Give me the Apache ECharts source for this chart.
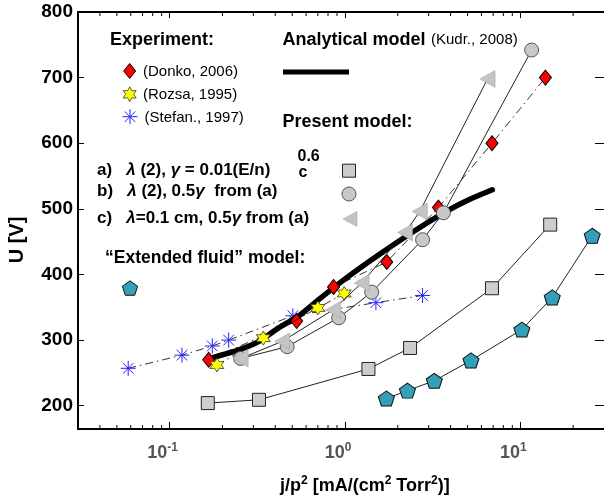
<!DOCTYPE html>
<html>
<head>
<meta charset="utf-8">
<script src="https://cdn.jsdelivr.net/npm/echarts@6/dist/echarts.min.js"></script>
<style>
  html, body { margin: 0; padding: 0; background: #fff; }
  #chart { width: 604px; height: 500px; }
</style>
</head>
<body>
<div id="chart"></div>
<script>
// Breakdown voltage U [V] versus reduced current density j/p^2 [mA/(cm^2 Torr^2)]

// Experiment
const donko2006 = [[0.167, 270], [0.53, 329], [0.86, 381], [1.73, 419], [3.41, 502], [6.89, 600], [13.9, 700]];
const rozsa1995 = [[0.186, 262], [0.342, 303], [0.70, 349], [0.99, 371]];
const stefan1997 = [[0.058, 257], [0.1175, 277], [0.175, 291], [0.217, 300], [0.504, 337], [1.50, 357], [2.77, 368]];

// Analytical model (Kudr., 2008)
const analyticalModel = [[0.174, 273], [0.248, 285], [0.323, 298], [0.42, 319], [0.546, 337], [0.71, 362],
  [1.01, 394], [1.56, 430], [2.41, 464], [3.78, 496], [4.91, 512], [6.92, 529]];

// Present model, variants a), b), c)
const modelA = [[0.165, 204], [0.323, 209], [1.36, 256], [2.35, 288], [6.89, 379], [14.8, 476]];
const modelB = [[0.254, 272], [0.468, 290], [0.92, 334], [1.42, 373], [2.77, 453], [3.64, 494], [11.6, 742]];
const modelC = [[0.254, 272], [0.438, 298], [0.854, 346], [1.245, 387], [2.2, 464], [2.67, 496], [6.5, 698]];

// "Extended fluid" model
const extendedFluid = [[1.72, 211], [2.27, 223], [3.23, 238], [5.23, 269], [10.2, 316], [15.2, 365], [25.7, 459]];

// Axis ranges and tick labels
const xRange = [0.03, 30];
const yRange = [164.5, 800];
const xTickExponents = { '0.1': '-1', '1': '0', '10': '1' };
const xMinorTicks = [0.04, 0.05, 0.06, 0.07, 0.08, 0.09,
  0.2, 0.3, 0.4, 0.5, 0.6, 0.7, 0.8, 0.9,
  2, 3, 4, 5, 6, 7, 8, 9, 20];

const SANS = '"Liberation Sans", Arial, Helvetica, sans-serif';
const NARROW = '"Liberation Sans Narrow", "Liberation Sans", Arial, sans-serif';

const PATH_STAR = 'path://M10,0L12.75,5.24L18.66,5L15.5,10L18.66,15L12.75,14.76L10,20L7.25,14.76L1.34,15L4.5,10L1.34,5L7.25,5.24Z';
const PATH_AST = 'path://M10,0L10,20M0,10L20,10M2.93,2.93L17.07,17.07M17.07,2.93L2.93,17.07';
const PATH_PENT = 'path://M10,0L19.51,6.91L15.88,18.09L4.12,18.09L0.49,6.91Z';
const PATH_TRI = 'path://M0,10L17,0L17,20Z';

const DASHDOT = [8, 4, 1.5, 4];

function polyPoints(cx, cy, rOuter, rInner, n, startDeg) {
  const pts = [];
  const count = rInner ? n * 2 : n;
  for (let k = 0; k < count; k++) {
    const a = (startDeg + k * 360 / count) * Math.PI / 180;
    const r = (rInner && k % 2 === 1) ? rInner : rOuter;
    pts.push([cx + r * Math.cos(a), cy + r * Math.sin(a)]);
  }
  return pts;
}

function label(x, y, text, size, weight, extra) {
  return Object.assign({
    type: 'text', x: x, y: y, silent: true, z: 100,
    style: {
      text: text, fill: '#000', fontFamily: SANS, fontSize: size, fontWeight: weight,
      align: 'left', verticalAlign: 'middle'
    }
  }, extra || {});
}

function italicRich(size) {
  return { i: { fontFamily: SANS, fontSize: size, fontWeight: 'bold', fontStyle: 'italic', fill: '#000' } };
}

function asterisk(cx, cy, r, color) {
  const children = [];
  for (let k = 0; k < 4; k++) {
    const a = k * Math.PI / 4;
    children.push({
      type: 'line',
      shape: { x1: cx - r * Math.cos(a), y1: cy - r * Math.sin(a), x2: cx + r * Math.cos(a), y2: cy + r * Math.sin(a) },
      style: { stroke: color, lineWidth: 1 }
    });
  }
  return { type: 'group', silent: true, z: 100, children: children };
}

const supRich = {
  b: { fontFamily: NARROW, fontSize: 18, fontWeight: 'bold', lineHeight: 22, fill: '#000' },
  s: { fontFamily: NARROW, fontSize: 12, fontWeight: 'bold', lineHeight: 12, verticalAlign: 'top', fill: '#000' }
};

const titleRich = {
  b: { fontFamily: SANS, fontSize: 18, fontWeight: 'bold', lineHeight: 22, fill: '#000' },
  s: { fontFamily: SANS, fontSize: 12, fontWeight: 'bold', lineHeight: 12, verticalAlign: 'top', fill: '#000' }
};

const chart = echarts.init(document.getElementById('chart'), null, { renderer: 'canvas' });

const option = {
  backgroundColor: '#fff',
  animation: false,
  grid: { left: 78, right: -1, top: 12, bottom: 71, containLabel: false },
  xAxis: [
    {
      type: 'log', logBase: 10, min: xRange[0], max: xRange[1], position: 'bottom',
      axisLine: { show: true, lineStyle: { color: '#000', width: 2 } },
      axisTick: { show: true, inside: true, length: 7, lineStyle: { color: '#000', width: 1 } },
      splitLine: { show: false },
      axisLabel: {
        show: true, margin: 13, showMinLabel: false, showMaxLabel: false,
        padding: [0, 14, 0, 0],
        formatter: function (v) {
          const key = String(Math.round(Math.log10(v) * 1000) / 1000 === -1 ? 0.1 : v);
          const e = xTickExponents[key] !== undefined ? xTickExponents[key] : String(Math.round(Math.log10(v)));
          return '{b|10}{s|' + e + '}';
        },
        rich: supRich
      }
    },
    {
      type: 'log', logBase: 10, min: xRange[0], max: xRange[1], position: 'top',
      axisLine: { show: true, lineStyle: { color: '#000', width: 2 } },
      axisTick: { show: true, inside: true, length: 6, lineStyle: { color: '#000', width: 1 } },
      splitLine: { show: false },
      axisLabel: { show: false }
    }
  ],
  yAxis: [
    {
      type: 'value', min: yRange[0], max: yRange[1], minInterval: 100, maxInterval: 100, position: 'left',
      axisLine: { show: true, lineStyle: { color: '#000', width: 2 } },
      axisTick: { show: true, inside: true, length: 6, lineStyle: { color: '#000', width: 1 } },
      splitLine: { show: false },
      axisLabel: {
        show: true, margin: 5, showMinLabel: false,
        fontFamily: SANS, fontSize: 19, fontWeight: 'bold', color: '#000'
      }
    },
    {
      type: 'value', min: yRange[0], max: yRange[1], minInterval: 100, maxInterval: 100, position: 'right',
      axisLine: { show: false },
      axisTick: { show: true, inside: true, length: 9, lineStyle: { color: '#000', width: 1 } },
      splitLine: { show: false },
      axisLabel: { show: false }
    }
  ],
  series: [
    {
      name: 'minor ticks', type: 'custom', silent: true, clip: false, z: 30,
      data: xMinorTicks.map(v => [v, yRange[0]]),
      renderItem: function (params, api) {
        const b = api.coord([api.value(0), yRange[0]]);
        const t = api.coord([api.value(0), yRange[1]]);
        return {
          type: 'group',
          children: [
            { type: 'line', shape: { x1: b[0], y1: b[1], x2: b[0], y2: b[1] - 4 }, style: { stroke: '#000', lineWidth: 1 } },
            { type: 'line', shape: { x1: t[0], y1: t[1], x2: t[0], y2: t[1] + 4 }, style: { stroke: '#000', lineWidth: 1 } }
          ]
        };
      }
    },
    {
      name: '(Stefan., 1997)', type: 'line', data: stefan1997, z: 3,
      symbol: PATH_AST, symbolSize: 15,
      itemStyle: { color: 'rgba(0,0,0,0)', borderColor: '#2424ff', borderWidth: 1 },
      lineStyle: { color: '#000', width: 0.8, type: DASHDOT }
    },
    {
      name: 'Analytical model', type: 'line', data: analyticalModel, z: 4,
      symbol: 'none', smooth: 0.2,
      lineStyle: { color: '#000', width: 5.5, cap: 'round', join: 'round' }
    },
    {
      name: '(Donko, 2006)', type: 'line', data: donko2006, z: 5,
      symbol: 'diamond', symbolSize: [12, 15],
      itemStyle: { color: '#ff0000', borderColor: '#000', borderWidth: 1 },
      lineStyle: { color: '#000', width: 0.8, type: DASHDOT }
    },
    {
      name: '(Rozsa, 1995)', type: 'line', data: rozsa1995, z: 6,
      symbol: PATH_STAR, symbolSize: 14,
      itemStyle: { color: '#ffff00', borderColor: '#333', borderWidth: 0.8 },
      lineStyle: { color: '#000', width: 0.8, type: DASHDOT }
    },
    {
      name: 'a)', type: 'line', data: modelA, z: 7,
      symbol: 'rect', symbolSize: 13,
      itemStyle: { color: '#cdcdcd', borderColor: '#222', borderWidth: 1 },
      lineStyle: { color: '#222', width: 1 }
    },
    {
      name: 'b)', type: 'line', data: modelB, z: 7,
      symbol: 'circle', symbolSize: 14,
      itemStyle: { color: '#c8c8c8', borderColor: '#555', borderWidth: 1 },
      lineStyle: { color: '#222', width: 1 }
    },
    {
      name: 'c)', type: 'line', data: modelC, z: 8,
      symbol: PATH_TRI, symbolSize: [15, 17],
      itemStyle: { color: '#c4c4c4', borderColor: '#a8a8a8', borderWidth: 0.6 },
      lineStyle: { color: '#222', width: 1 }
    },
    {
      name: 'Extended fluid', type: 'line', data: extendedFluid, z: 8,
      symbol: PATH_PENT, symbolSize: [16, 15],
      itemStyle: { color: '#34a0b8', borderColor: '#111', borderWidth: 1 },
      lineStyle: { color: '#222', width: 1 }
    }
  ],
  graphic: [
    // axis titles
    {
      type: 'text', x: 17, y: 240, rotation: Math.PI / 2, silent: true, z: 100,
      style: { text: 'U [V]', fill: '#000', fontFamily: SANS, fontSize: 20, fontWeight: 'bold', align: 'center', verticalAlign: 'middle' }
    },
    {
      type: 'text', x: 280, y: 486, silent: true, z: 100,
      style: {
        text: '{b|j/p}{s|2}{b| [mA/(cm}{s|2}{b| Torr}{s|2}{b|)]}',
        rich: titleRich, align: 'left', verticalAlign: 'middle'
      }
    },
    // experiment key
    label(110, 40, 'Experiment:', 18, 'bold'),
    { type: 'polygon', silent: true, z: 100, shape: { points: [[123.7, 71], [129.7, 63.5], [135.7, 71], [129.7, 78.5]] },
      style: { fill: '#ff0000', stroke: '#000', lineWidth: 1 } },
    label(143, 71.5, '(Donko, 2006)', 15, 'normal', {}),
    { type: 'polygon', silent: true, z: 100, shape: { points: polyPoints(129.7, 94.3, 7.5, 4.1, 6, -90) },
      style: { fill: '#ffff00', stroke: '#333', lineWidth: 0.8 } },
    label(143, 95, '(Rozsa, 1995)', 15, 'normal'),
    asterisk(130, 116.7, 7.5, '#2424ff'),
    label(144.5, 118, '(Stefan., 1997)', 15, 'normal'),
    // analytical model key
    label(282.5, 40.5, 'Analytical model', 18, 'bold'),
    label(431, 40, '(Kudr., 2008)', 15, 'normal'),
    { type: 'line', silent: true, z: 100, shape: { x1: 283, y1: 72, x2: 349, y2: 72 }, style: { stroke: '#000', lineWidth: 5 } },
    // present model key
    label(282.5, 122, 'Present model:', 18, 'bold'),
    {
      type: 'text', x: 97, y: 170, silent: true, z: 100,
      style: { text: 'a)   {i|λ} (2), {i|γ} = 0.01(E/n)', fill: '#000', fontFamily: SANS, fontSize: 17, fontWeight: 'bold',
        rich: italicRich(17), align: 'left', verticalAlign: 'middle' }
    },
    label(297.5, 156.5, '0.6', 16, 'bold'),
    label(298.5, 173, 'c', 16, 'bold'),
    { type: 'rect', silent: true, z: 100, shape: { x: 342.5, y: 164.2, width: 13, height: 13 },
      style: { fill: '#cdcdcd', stroke: '#222', lineWidth: 1 } },
    {
      type: 'text', x: 97, y: 191.5, silent: true, z: 100,
      style: { text: 'b)   {i|λ} (2), 0.5{i|γ}  from (a)', fill: '#000', fontFamily: SANS, fontSize: 17, fontWeight: 'bold',
        rich: italicRich(17), align: 'left', verticalAlign: 'middle' }
    },
    { type: 'circle', silent: true, z: 100, shape: { cx: 349, cy: 194, r: 7 },
      style: { fill: '#c8c8c8', stroke: '#555', lineWidth: 1 } },
    {
      type: 'text', x: 97, y: 218, silent: true, z: 100,
      style: { text: 'c)   {i|λ}=0.1 cm, 0.5{i|γ} from (a)', fill: '#000', fontFamily: SANS, fontSize: 17, fontWeight: 'bold',
        rich: italicRich(17), align: 'left', verticalAlign: 'middle' }
    },
    { type: 'polygon', silent: true, z: 100, shape: { points: [[343, 219], [357, 211.5], [357, 226.5]] },
      style: { fill: '#c4c4c4', stroke: '#a8a8a8', lineWidth: 0.6 } },
    // extended fluid model key
    label(105, 258, '“Extended fluid” model:', 17.5, 'bold'),
    { type: 'polygon', silent: true, z: 100, shape: { points: polyPoints(130, 288.8, 8, 0, 5, -90) },
      style: { fill: '#34a0b8', stroke: '#111', lineWidth: 1 } }
  ]
};

chart.setOption(option);
</script>
</body>
</html>
